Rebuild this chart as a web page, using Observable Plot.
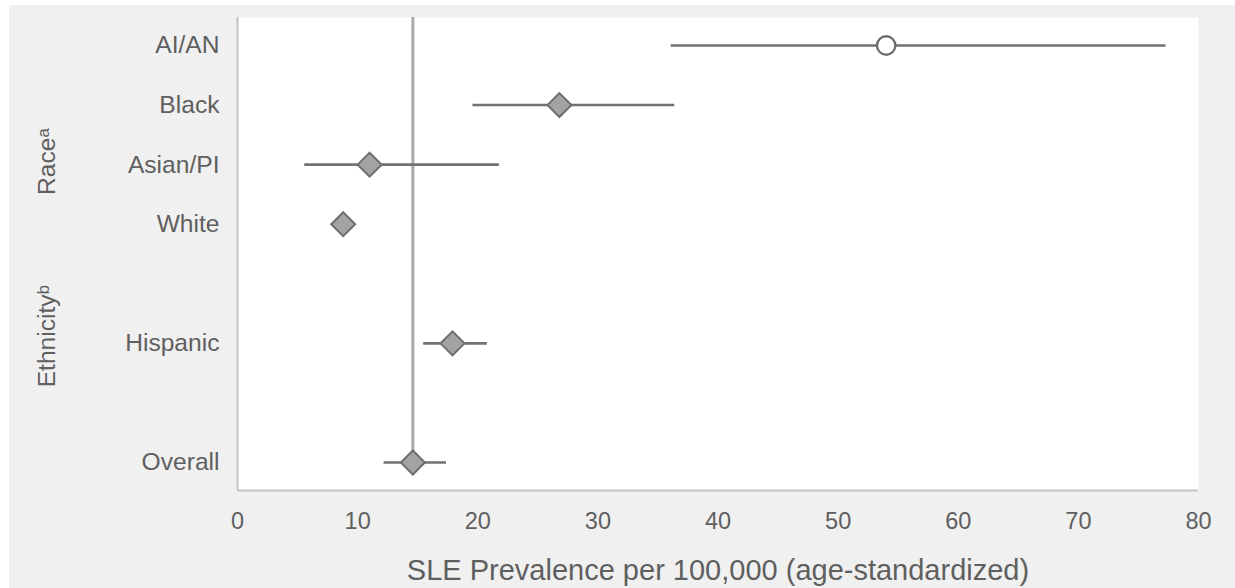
<!DOCTYPE html>
<html><head><meta charset="utf-8">
<script src="https://cdn.jsdelivr.net/npm/d3@7"></script>
<script src="https://cdn.jsdelivr.net/npm/@observablehq/plot@0.6"></script>
<style>
body{margin:0;background:#fff;}
#chart{position:absolute;left:9px;top:5px;width:1226px;height:583px;background:#f0f0f0;}
</style></head><body><div id="chart"></div>
<script>
const categories = ["AI/AN", "Black", "Asian/PI", "White", "Hispanic", "Overall"];
const rowPositions = [0, 1, 2, 3, 5, 7];
const estimates = [54.0, 26.8, 11.0, 8.8, 17.9, 14.6];
const lower = [36.1, 19.6, 5.6, 8.3, 15.5, 12.2];
const upper = [77.3, 36.4, 21.8, 9.3, 20.8, 17.4];
const markerKind = ["open", "filled", "filled", "filled", "filled", "filled"];
const groupLabels = ["Raceᵃ", "Ethnicityᵇ"];
const groupPositions = [1.95, 4.88];
const xTicks = [0, 10, 20, 30, 40, 50, 60, 70, 80];
const overallRate = 14.6;
const xTitle = "SLE Prevalence per 100,000 (age-standardized)";

const rows = categories.map((name, i) => ({
  name, pos: rowPositions[i], est: estimates[i], lo: lower[i], hi: upper[i], kind: markerKind[i]
}));
const groups = groupLabels.map((label, i) => ({label, pos: groupPositions[i]}));
const yTop = -0.47, yBottom = 7.47;
const textColor = "#5f5f5f";

const chart = Plot.plot({
  width: 1226, height: 583,
  marginLeft: 228, marginRight: 37, marginTop: 12, marginBottom: 98,
  style: {background: "transparent", fontFamily: "'Liberation Sans', Arial, sans-serif", color: textColor},
  x: {domain: [0, 80], axis: null},
  y: {domain: [yTop, yBottom], reverse: true, axis: null},
  marks: [
    Plot.frame({fill: "white", stroke: null}),
    Plot.ruleX([overallRate], {y1: yTop, y2: 7, stroke: "#a8a8a8", strokeWidth: 3}),
    Plot.ruleY(rows, {y: "pos", x1: "lo", x2: "hi", stroke: "#717171", strokeWidth: 2.6}),
    Plot.ruleX([0], {y1: yTop, y2: yBottom, stroke: "#c4c4c4", strokeWidth: 2}),
    Plot.ruleY([yBottom], {x1: 0, x2: 80, stroke: "#c4c4c4", strokeWidth: 2}),
    Plot.dot(rows.filter(d => d.kind === "filled"), {x: "est", y: "pos", symbol: "diamond2", r: 10.8, fill: "#a3a3a3", stroke: "#6e6e6e", strokeWidth: 2}),
    Plot.dot(rows.filter(d => d.kind === "open"), {x: "est", y: "pos", symbol: "circle", r: 9.2, fill: "white", stroke: "#6e6e6e", strokeWidth: 2.4}),
    Plot.text(rows, {x: () => 0, y: "pos", text: "name", textAnchor: "end", dx: -18, fontSize: 24.6, fill: textColor}),
    Plot.text(groups, {x: () => 0, y: "pos", text: "label", rotate: -90, dx: -190, fontSize: 24.6, fill: textColor}),
    Plot.text(xTicks, {x: d => d, frameAnchor: "bottom", dy: 38, text: d => String(d), fontSize: 23.5, fill: textColor}),
    Plot.text([xTitle], {x: () => 40, frameAnchor: "bottom", dy: 89, text: d => d, fontSize: 29, fill: textColor})
  ]
});
document.getElementById("chart").appendChild(chart);
</script></body></html>
